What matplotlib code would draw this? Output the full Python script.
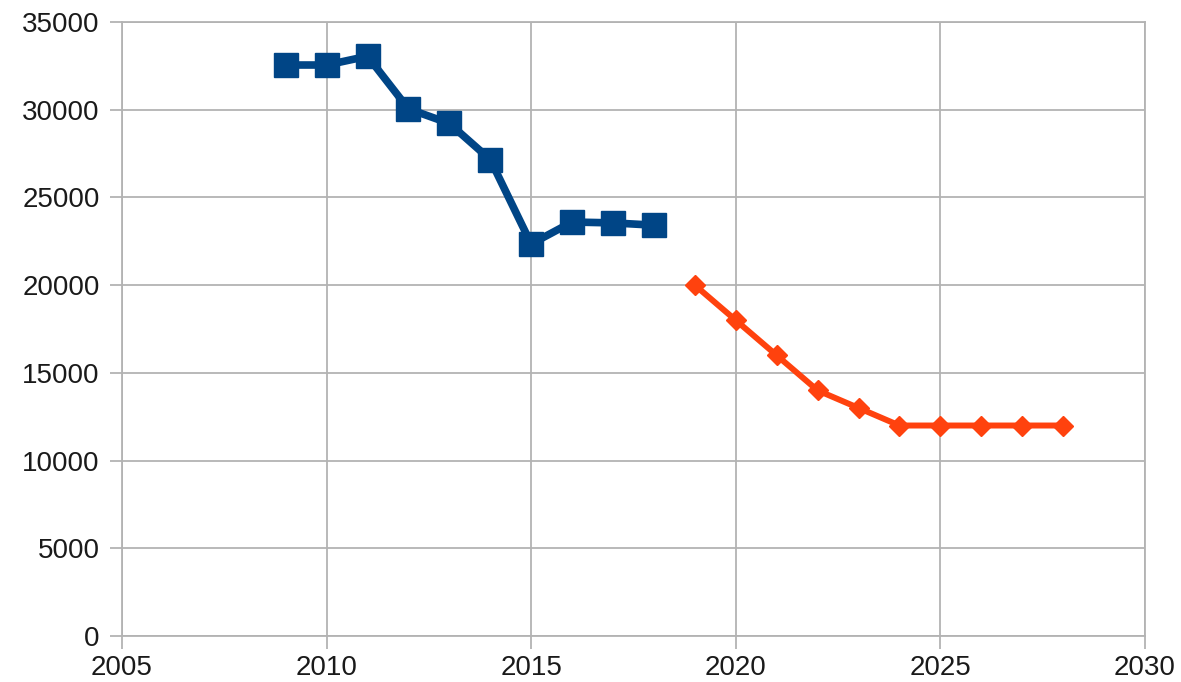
import matplotlib.pyplot as plt

plt.rcParams['font.family'] = ['Liberation Sans', 'DejaVu Sans']

# measured series
years_hist = [2009, 2010, 2011, 2012, 2013, 2014, 2015, 2016, 2017, 2018]
values_hist = [32550, 32550, 33050, 30050, 29220, 27160, 22350, 23600, 23550, 23420]

years_proj = [2019, 2020, 2021, 2022, 2023, 2024, 2025, 2026, 2027, 2028]
values_proj = [20000, 18000, 16000, 14000, 13000, 12000, 12000, 12000, 12000, 12000]

x_ticks = [2005, 2010, 2015, 2020, 2025, 2030]
y_ticks = [0, 5000, 10000, 15000, 20000, 25000, 30000, 35000]

grid_col = '#b3b3b3'

fig = plt.figure(figsize=(11.81, 6.82), dpi=100)
ax = fig.add_axes([0.1033, 0.0674, 0.8662, 0.9003])

ax.plot(years_hist, values_hist, color='#004586', lw=5.5, marker='s',
        markersize=17, solid_joinstyle='miter', zorder=3)
ax.plot(years_proj, values_proj, color='#ff420e', lw=4.3, marker='D',
        markersize=10.5, zorder=3)

ax.set_xlim(2005, 2030)
ax.set_ylim(0, 35000)
ax.set_xticks(x_ticks)
ax.set_yticks(y_ticks)
ax.grid(True, color=grid_col, lw=1.3)
ax.set_axisbelow(True)

for s in ax.spines.values():
    s.set_color(grid_col)
    s.set_linewidth(1.3)

ax.tick_params(axis='both', direction='out', length=9, width=1.3,
               color=grid_col, labelsize=20, labelcolor='#1a1a1a')
ax.tick_params(axis='y', pad=7)
ax.tick_params(axis='x', pad=5)

fig.savefig('out.png', dpi=100)
